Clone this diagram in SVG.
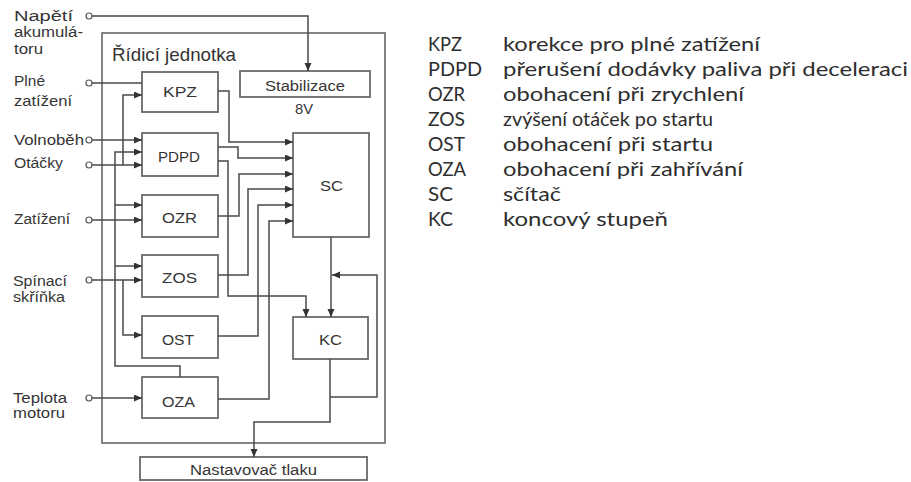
<svg xmlns="http://www.w3.org/2000/svg" width="911" height="482" viewBox="0 0 911 482">
<style>
.bx{fill:#fff;stroke:#6a6a6a;stroke-width:1.8}
.ln{fill:none;stroke:#4a4a4a;stroke-width:1.5}
.lbl{font-family:"Liberation Sans",Arial,sans-serif;font-size:14px;fill:#353535}
.bt{font-family:"Liberation Sans",Arial,sans-serif;font-size:14px;fill:#353535;text-anchor:start}
.lg{font-family:Lato,"Noto Sans",sans-serif;font-size:20px;fill:#2e2e2e}
.pin{fill:#fff;stroke:#555;stroke-width:1.2}
</style>
<defs>
<marker id="ar" markerUnits="userSpaceOnUse" markerWidth="9" markerHeight="8" refX="8" refY="3.5" orient="auto">
<path d="M0,0 L8,3.5 L0,7 z" fill="#333"/>
</marker>
</defs>
<rect width="911" height="482" fill="#fff"/>

<g id="unit">
<rect x="102" y="33" width="283" height="410" fill="none" stroke="#777" stroke-width="1.8"/>
<text x="112" y="61" font-family="'Liberation Sans',Arial,sans-serif" font-size="19" fill="#333" textLength="124" lengthAdjust="spacingAndGlyphs">Řídicí jednotka</text>
</g>

<g id="inputs">
<text class="lbl" x="14" y="21" textLength="59" lengthAdjust="spacingAndGlyphs">Napětí</text>
<text class="lbl" x="14" y="37" textLength="69" lengthAdjust="spacingAndGlyphs">akumulá-</text>
<text class="lbl" x="14" y="54" textLength="29" lengthAdjust="spacingAndGlyphs">toru</text>
<text class="lbl" x="14" y="86" textLength="31" lengthAdjust="spacingAndGlyphs">Plné</text>
<text class="lbl" x="14" y="106" textLength="58" lengthAdjust="spacingAndGlyphs">zatížení</text>
<text class="lbl" x="14" y="145" textLength="70" lengthAdjust="spacingAndGlyphs">Volnoběh</text>
<text class="lbl" x="14" y="168" textLength="49" lengthAdjust="spacingAndGlyphs">Otáčky</text>
<text class="lbl" x="14" y="224" textLength="56" lengthAdjust="spacingAndGlyphs">Zatížení</text>
<text class="lbl" x="13" y="286" textLength="54" lengthAdjust="spacingAndGlyphs">Spínací</text>
<text class="lbl" x="13" y="302" textLength="52" lengthAdjust="spacingAndGlyphs">skříňka</text>
<text class="lbl" x="13" y="403" textLength="54" lengthAdjust="spacingAndGlyphs">Teplota</text>
<text class="lbl" x="13" y="418" textLength="52" lengthAdjust="spacingAndGlyphs">motoru</text>
</g>

<g id="KPZ"><rect class="bx" x="142" y="72" width="76" height="40"/><text class="bt" x="163" y="97" textLength="34" lengthAdjust="spacingAndGlyphs">KPZ</text></g>
<g id="PDPD"><rect class="bx" x="142" y="133" width="76" height="43"/><text class="bt" x="158" y="162" textLength="42" lengthAdjust="spacingAndGlyphs">PDPD</text></g>
<g id="OZR"><rect class="bx" x="142" y="195" width="76" height="42"/><text class="bt" x="162" y="223" textLength="35" lengthAdjust="spacingAndGlyphs">OZR</text></g>
<g id="ZOS"><rect class="bx" x="142" y="255" width="76" height="42"/><text class="bt" x="162" y="283" textLength="35" lengthAdjust="spacingAndGlyphs">ZOS</text></g>
<g id="OST"><rect class="bx" x="142" y="316" width="76" height="42"/><text class="bt" x="162" y="345" textLength="32" lengthAdjust="spacingAndGlyphs">OST</text></g>
<g id="OZA"><rect class="bx" x="142" y="377" width="76" height="41"/><text class="bt" x="162" y="407" textLength="33" lengthAdjust="spacingAndGlyphs">OZA</text></g>
<g id="SC"><rect class="bx" x="293" y="133" width="76" height="104"/><text class="bt" x="320" y="191" textLength="23" lengthAdjust="spacingAndGlyphs">SC</text></g>
<g id="KC"><rect class="bx" x="293" y="317" width="75" height="42"/><text class="bt" x="319" y="345" textLength="23" lengthAdjust="spacingAndGlyphs">KC</text></g>
<g id="Stabilizace"><rect class="bx" x="240" y="71" width="130" height="26"/><text class="bt" x="265" y="91" textLength="80" lengthAdjust="spacingAndGlyphs">Stabilizace</text><text class="bt" x="295" y="114" textLength="18" lengthAdjust="spacingAndGlyphs">8V</text></g>
<g id="Nastavovac"><rect class="bx" x="140" y="457" width="227" height="23"/><text class="bt" x="190" y="475" textLength="127" lengthAdjust="spacingAndGlyphs">Nastavovač tlaku</text></g>

<g id="connectors">
<path class="ln" d="M92,16 H308 V71" marker-end="url(#ar)"/>
<path class="ln" d="M92,83 H142"/>
<path class="ln" d="M92,140 H142" marker-end="url(#ar)"/>
<path class="ln" d="M92,165 H142" marker-end="url(#ar)"/>
<path class="ln" d="M123,165 V95 H142" marker-end="url(#ar)"/>
<path class="ln" d="M180,377 V366 H115 V152 H142" marker-end="url(#ar)"/>
<path class="ln" d="M115,205 H142" marker-end="url(#ar)"/>
<path class="ln" d="M115,266 H142" marker-end="url(#ar)"/>
<path class="ln" d="M92,220 H142" marker-end="url(#ar)"/>
<path class="ln" d="M92,280 H142" marker-end="url(#ar)"/>
<path class="ln" d="M123,280 V335 H142" marker-end="url(#ar)"/>
<path class="ln" d="M92,398 H142" marker-end="url(#ar)"/>
<path class="ln" d="M218,91 H229 V142 H293" marker-end="url(#ar)"/>
<path class="ln" d="M218,147 H238 V158 H293" marker-end="url(#ar)"/>
<path class="ln" d="M218,161 H228 V296 H306 V317" marker-end="url(#ar)"/>
<path class="ln" d="M218,216 H239 V174 H293" marker-end="url(#ar)"/>
<path class="ln" d="M218,275 H248 V189 H293" marker-end="url(#ar)"/>
<path class="ln" d="M218,336 H258 V205 H293" marker-end="url(#ar)"/>
<path class="ln" d="M218,399 H269 V221 H293" marker-end="url(#ar)"/>
<path class="ln" d="M331,237 V317" marker-end="url(#ar)"/>
<path class="ln" d="M330,359 V422 H254 V457" marker-end="url(#ar)"/>
<path class="ln" d="M330,397 H377 V275 H332" marker-end="url(#ar)"/>
<circle class="pin" cx="89" cy="16" r="3"/>
<circle class="pin" cx="89" cy="83" r="3"/>
<circle class="pin" cx="89" cy="140" r="3"/>
<circle class="pin" cx="89" cy="165" r="3"/>
<circle class="pin" cx="89" cy="220" r="3"/>
<circle class="pin" cx="89" cy="280" r="3"/>
<circle class="pin" cx="89" cy="398" r="3"/>
</g>

<g id="legend">
<text class="lg" x="428" y="51" textLength="34" lengthAdjust="spacingAndGlyphs">KPZ</text>
<text class="lg" x="503" y="51" textLength="257" lengthAdjust="spacingAndGlyphs">korekce pro plné zatížení</text>
<text class="lg" x="428" y="76" textLength="54" lengthAdjust="spacingAndGlyphs">PDPD</text>
<text class="lg" x="503" y="76" textLength="405" lengthAdjust="spacingAndGlyphs">přerušení dodávky paliva při deceleraci</text>
<text class="lg" x="428" y="101" textLength="37" lengthAdjust="spacingAndGlyphs">OZR</text>
<text class="lg" x="503" y="101" textLength="241" lengthAdjust="spacingAndGlyphs">obohacení při zrychlení</text>
<text class="lg" x="428" y="126" textLength="37" lengthAdjust="spacingAndGlyphs">ZOS</text>
<text class="lg" x="503" y="126" textLength="210" lengthAdjust="spacingAndGlyphs">zvýšení otáček po startu</text>
<text class="lg" x="428" y="151" textLength="37" lengthAdjust="spacingAndGlyphs">OST</text>
<text class="lg" x="503" y="151" textLength="210" lengthAdjust="spacingAndGlyphs">obohacení při startu</text>
<text class="lg" x="428" y="176" textLength="38" lengthAdjust="spacingAndGlyphs">OZA</text>
<text class="lg" x="503" y="176" textLength="240" lengthAdjust="spacingAndGlyphs">obohacení při zahřívání</text>
<text class="lg" x="428" y="201" textLength="25" lengthAdjust="spacingAndGlyphs">SC</text>
<text class="lg" x="503" y="201" textLength="58" lengthAdjust="spacingAndGlyphs">sčítač</text>
<text class="lg" x="428" y="226" textLength="25" lengthAdjust="spacingAndGlyphs">KC</text>
<text class="lg" x="503" y="226" textLength="165" lengthAdjust="spacingAndGlyphs">koncový stupeň</text>
</g>
</svg>
